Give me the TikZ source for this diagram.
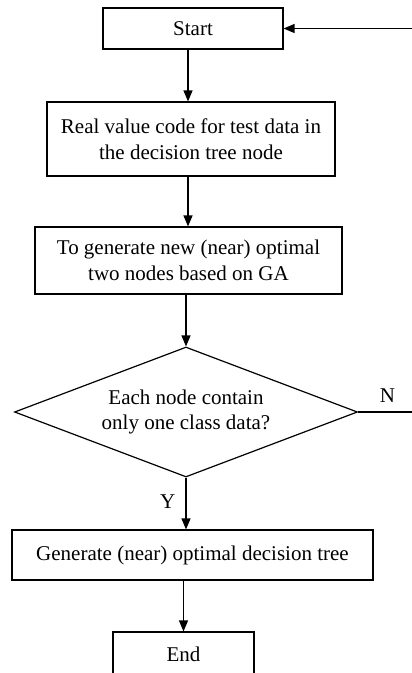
\documentclass[tikz,border=0pt]{standalone}
\usepackage{fontspec}
\setmainfont{Liberation Serif}
\usetikzlibrary{shapes.geometric,arrows.meta}
\begin{document}
\begin{tikzpicture}[x=1pt,y=-1pt,
  every node/.style={font=\fontsize{21}{25.5}\selectfont},
  box/.style={draw, line width=1.2pt, rectangle, inner sep=0pt, align=center},
  decision/.style={draw, diamond, shape aspect=2.64, line width=1.2pt,
    inner sep=0pt, align=center},
  arr/.style={line width=1.3pt, -{Triangle[length=11pt,width=9pt]}},
  lbl/.style={inner sep=0pt}]
\path[use as bounding box, clip] (0,0) rectangle (412,673);

% process steps
\node[box, minimum width=180pt, minimum height=41pt] (start) at (193,28.5) {Start};
\node[box, minimum width=288pt, minimum height=74pt] (real) at (191,139)
  {Real value code for test data in\\the decision tree node};
\node[box, minimum width=307pt, minimum height=67pt] (ga) at (188.5,260.5)
  {To generate new (near) optimal\\two nodes based on GA};
\node[decision, minimum width=343pt, minimum height=130pt] (check) at (186,412)
  {Each node contain\\only one class data?};
\node[box, minimum width=361pt, minimum height=50pt] (gen) at (192.5,555)
  {Generate (near) optimal decision tree};
\node[box, minimum width=141pt, minimum height=44pt] (end) at (183.5,654) {End};

% guide coordinates for the vertical flow and the return loop
\coordinate (spine) at (188,0);
\coordinate (loopright) at (420,0);

% main flow
\draw[arr] (start.south -| spine) -- (real.north -| spine);
\draw[arr] (real.south -| spine) -- (ga.north -| spine);
\draw[arr] (ga.south -| check.north) -- (check.north);
\draw[arr] (check.south) -- (gen.north -| check.south)
  node[lbl, pos=0.46, left=10pt] {Y};
\draw[arr] (gen.south -| end.north) -- (end.north);

% "no" branch returns to the start
\draw[arr] (check.east) -- (check.east -| loopright)
  node[lbl, pos=0.476, above=9pt] {N}
  -- (start.east -| loopright) -- (start.east);
\end{tikzpicture}
\end{document}
